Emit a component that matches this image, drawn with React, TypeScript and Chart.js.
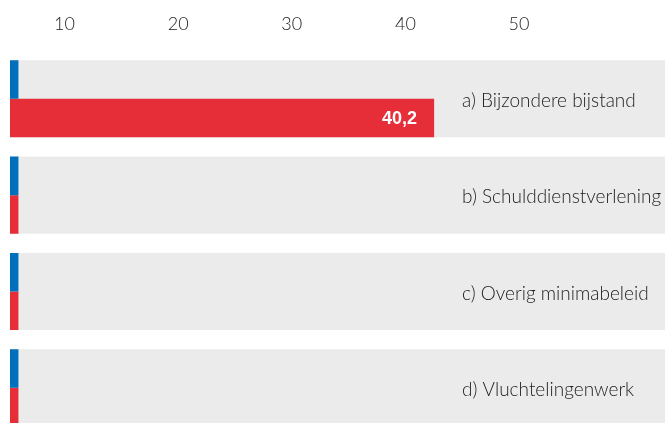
import React, { useEffect, useRef } from "react";
import { Chart, registerables } from "chart.js";

Chart.register(...registerables);

const categories = [
  "a) Bijzondere bijstand",
  "b) Schulddienstverlening",
  "c) Overig minimabeleid",
  "d) Vluchtelingenwerk",
];
const blueValues = [0.8, 0.8, 0.8, 0.8];
const redValues = [40.2, 0.8, 0.8, 0.8];
const tickValues = [10, 20, 30, 40, 50];

const X_MAX = 65.4;
const X2_MIN = 5.2;
const X2_MAX = 65.93;
const LABEL_AT = 42.85;

const BLUE = "#0070bc";
const RED = "#e62e38";
const GREY = "#ebebeb";

const bandPlugin = {
  id: "bandPlugin",
  beforeDatasetsDraw(chart: any) {
    const ctx = chart.ctx;
    const area = chart.chartArea;
    const mBlue = chart.getDatasetMeta(0);
    const mRed = chart.getDatasetMeta(1);
    ctx.save();
    ctx.fillStyle = GREY;
    categories.forEach((_, i) => {
      const b = mBlue.data[i];
      const r = mRed.data[i];
      const top = b.y - b.height / 2;
      const bottom = r.y + r.height / 2;
      ctx.fillRect(area.left, top, area.right - area.left, bottom - top);
    });
    ctx.restore();
  },
};

const labelPlugin = {
  id: "labelPlugin",
  afterDatasetsDraw(chart: any) {
    const ctx = chart.ctx;
    const x = chart.scales.x;
    const y = chart.scales.y;
    ctx.save();
    ctx.fillStyle = "#222";
    ctx.font = "300 19px Lato";
    ctx.textAlign = "left";
    ctx.textBaseline = "middle";
    categories.forEach((c, i) => {
      ctx.fillText(c, x.getPixelForValue(LABEL_AT), y.getPixelForValue(i) + 2);
    });
    const meta = chart.getDatasetMeta(1);
    ctx.fillStyle = "#ffffff";
    ctx.font = "bold 18px 'Liberation Sans'";
    ctx.textAlign = "right";
    redValues.forEach((v, i) => {
      if (v > 5) {
        const el = meta.data[i];
        ctx.fillText(String(v).replace(".", ","), el.x - 17, el.y + 1);
      }
    });
    ctx.restore();
  },
};

export default function App() {
  const ref = useRef<HTMLCanvasElement>(null);
  useEffect(() => {
    if (!ref.current) return;
    const chart = new Chart(ref.current, {
      type: "bar",
      data: {
        labels: categories,
        datasets: [
          {
            label: "blue",
            data: blueValues,
            backgroundColor: BLUE,
            categoryPercentage: 0.8,
            barPercentage: 1,
          },
          {
            label: "red",
            data: redValues,
            backgroundColor: RED,
            categoryPercentage: 0.8,
            barPercentage: 1,
          },
        ],
      },
      options: {
        indexAxis: "y",
        animation: false,
        responsive: true,
        maintainAspectRatio: false,
        layout: { padding: { left: 10, top: 12, right: 0, bottom: 0 } },
        plugins: { legend: { display: false }, tooltip: { enabled: false } },
        scales: {
          x: { type: "linear", min: 0, max: X_MAX, display: false },
          x2: {
            type: "linear",
            position: "top",
            min: X2_MIN,
            max: X2_MAX,
            grid: { display: false, drawTicks: false },
            border: { display: false },
            afterBuildTicks: (axis: any) => {
              axis.ticks = tickValues.map((v) => ({ value: v }));
            },
            ticks: {
              autoSkip: false,
              maxRotation: 0,
              padding: 16,
              color: "#222",
              font: { family: "Lato", size: 18, weight: "300" },
            },
          },
          y: { type: "category", display: false },
        },
      },
      plugins: [bandPlugin, labelPlugin],
    });
    return () => chart.destroy();
  }, []);
  return (
    <div style={{ position: "fixed", left: 0, top: 0, width: 665, height: 423, overflow: "hidden", background: "#fff" }}>
      <div style={{ position: "absolute", left: 0, top: -15, width: 700, height: 451 }}>
        <canvas ref={ref} />
      </div>
    </div>
  );
}
